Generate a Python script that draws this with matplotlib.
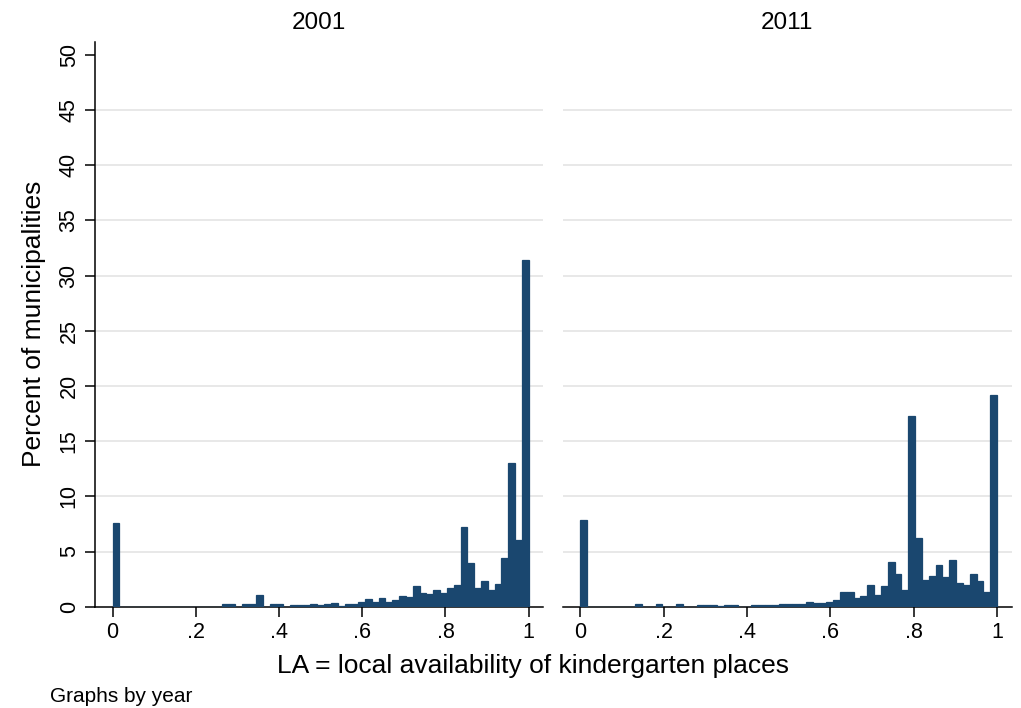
import numpy as np
import matplotlib
matplotlib.use("Agg")
import matplotlib.pyplot as plt

plt.rcParams['font.family'] = ['Liberation Sans', 'DejaVu Sans']

# Histogram of LA (61 bins over 0..1), percent of municipalities per bin
n_bins = 61
pct_2001 = [
    7.6, 0, 0, 0, 0, 0, 0, 0, 0, 0, 0, 0, 0, 0, 0, 0,
    0.2, 0.2, 0, 0.2, 0.2, 1.05, 0, 0.2, 0.2, 0, 0.15, 0.15, 0.15, 0.2, 0.15,
    0.2, 0.3, 0.1, 0.2, 0.2, 0.4, 0.7, 0.4, 0.75, 0.45, 0.65, 0.95, 0.85, 1.9,
    1.2, 1.15, 1.55, 1.2, 1.7, 1.95, 7.25, 4.0, 1.7, 2.35, 1.55, 2.05, 4.4,
    13.0, 6.0, 31.4,
]
pct_2011 = [
    7.9, 0, 0, 0, 0, 0, 0, 0, 0.2, 0, 0, 0.2, 0, 0, 0.2, 0, 0,
    0.15, 0.15, 0.15, 0.1, 0.15, 0.15, 0, 0, 0.15, 0.15, 0.15, 0.15, 0.2, 0.2,
    0.2, 0.25, 0.45, 0.3, 0.35, 0.4, 0.65, 1.3, 1.35, 0.8, 1.0, 1.95, 1.05,
    1.85, 4.05, 3.0, 1.55, 17.3, 6.25, 2.45, 2.8, 3.75, 2.7, 4.25, 2.15, 1.95,
    2.95, 2.35, 1.3, 19.2,
]
years = ['2001', '2011']
xticks = [0, 0.2, 0.4, 0.6, 0.8, 1.0]
xtick_labels = ['0', '.2', '.4', '.6', '.8', '1']
yticks = list(range(0, 55, 5))

bar_color = '#1a476f'
edges = np.arange(n_bins) / n_bins

fig = plt.figure(figsize=(10.21, 7.08), dpi=100)
ax1 = fig.add_axes([0.0930, 0.1431, 0.4391, 0.7980])
ax2 = fig.add_axes([0.5511, 0.1431, 0.4398, 0.7980])

for ax, vals, yr in zip([ax1, ax2], [pct_2001, pct_2011], years):
    ax.bar(edges, vals, width=1 / n_bins, align='edge', color=bar_color,
           edgecolor=bar_color, linewidth=0.9, zorder=3)
    ax.set_xlim(-0.0425, 1.035)
    ax.set_ylim(0, 51.2)
    ax.set_yticks(yticks)
    for v in yticks[1:-1]:
        ax.axhline(v, color='#e4e4e4', linewidth=1.2, zorder=1)
    ax.set_xticks(xticks)
    ax.set_xticklabels(xtick_labels, fontsize=15.5)
    ax.tick_params(axis='x', direction='out', length=7, width=1.1, pad=4)
    ax.set_title(yr, fontsize=17.5, pad=9)
    for s in ['top', 'right']:
        ax.spines[s].set_visible(False)
    ax.spines['bottom'].set_linewidth(1.1)
    ax.spines['left'].set_linewidth(1.1)
    ax.set_facecolor('white')

ax1.set_yticklabels([str(v) for v in yticks], fontsize=15.5, rotation=90, va='center')
ax1.tick_params(axis='y', direction='out', length=7, width=1.1, pad=4)
ax1.set_ylabel('Percent of municipalities', fontsize=19, labelpad=9)

ax2.spines['left'].set_visible(False)
ax2.tick_params(axis='y', left=False, labelleft=False)

fig.text(0.522, 0.059, 'LA = local availability of kindergarten places',
         ha='center', va='center', fontsize=19)
fig.text(0.049, 0.016, 'Graphs by year', ha='left', va='center', fontsize=15)

fig.savefig('out.png', dpi=100, facecolor='white')
